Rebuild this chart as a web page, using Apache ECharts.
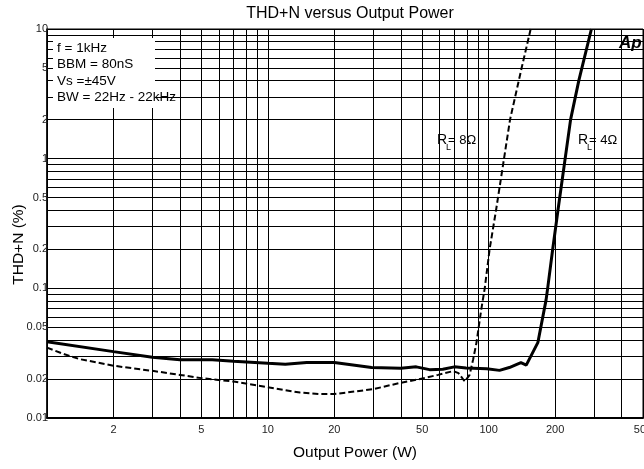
<!DOCTYPE html>
<html>
<head>
<meta charset="utf-8">
<script src="https://cdn.jsdelivr.net/npm/echarts@6/dist/echarts.min.js"></script>
<style>
html,body{margin:0;padding:0;background:#fff;}
#chart{width:644px;height:469px;}
</style>
</head>
<body>
<div id="chart"></div>
<script>
// ---- data ----
const power8 = [1, 1.2, 1.4, 2, 3, 4, 5, 7, 10, 14, 17, 20, 30, 40, 47, 59, 69, 73, 78, 82, 85, 88, 92.5, 96, 101, 108, 125, 141, 155];
const thd8   = [0.0349, 0.031, 0.0285, 0.0253, 0.0231, 0.0215, 0.0203, 0.0191, 0.0173, 0.0157, 0.0153, 0.0153, 0.0167, 0.0187, 0.0197, 0.0215, 0.023, 0.0222, 0.0191, 0.0215, 0.0281, 0.0378, 0.068, 0.1, 0.2, 0.4, 2, 5, 10];
const power4 = [1, 2, 3, 4, 5.6, 7, 10, 12, 15, 20, 29.5, 40, 47, 54, 62, 70, 79, 98, 112, 124, 140, 148, 167, 182, 185, 195, 206, 235, 256, 292];
const thd4   = [0.0388, 0.0325, 0.0294, 0.0281, 0.0281, 0.0274, 0.0264, 0.026, 0.0268, 0.0268, 0.0245, 0.0242, 0.0248, 0.0236, 0.0238, 0.0248, 0.0243, 0.024, 0.0233, 0.0245, 0.0267, 0.0256, 0.0381, 0.0815, 0.1, 0.2, 0.4, 2, 4, 10];

const xGridValues  = [1,2,3,4,5,6,7,8,9,10,20,30,40,50,60,70,80,90,100,200,300,400,500];
const xLabelValues = [2,5,10,20,50,100,200,500];
const yGridValues  = [0.01,0.02,0.03,0.04,0.05,0.06,0.07,0.08,0.09,0.1,0.2,0.3,0.4,0.5,0.6,0.7,0.8,0.9,1,2,3,4,5,6,7,8,9,10];
const yLabelValues = [0.01,0.02,0.05,0.1,0.2,0.5,1,2,5,10];

const titleText = 'THD+N versus Output Power';
const xName = 'Output Power (W)';
const yName = 'THD+N (%)';
const noteLines = ['f = 1kHz', 'BBM = 80nS', 'Vs =\u00b145V', 'BW = 22Hz - 22kHz'];

const FONT = 'Liberation Sans, Arial, sans-serif';
const chart = echarts.init(document.getElementById('chart'), null, {renderer: 'canvas'});

const noteY = [48, 64, 81, 97];
const graphics = [
  {type: 'rect', shape: {x: 53, y: 38, width: 102, height: 70}, style: {fill: '#fff'}, z: 50},
];
noteLines.forEach((t, i) => graphics.push({
  type: 'text', x: 57, y: noteY[i], z: 51,
  style: {text: t, font: '13.5px ' + FONT, fill: '#000', textVerticalAlign: 'middle'}
}));
graphics.push(
  {type: 'text', x: 619, y: 43, z: 51, style: {text: 'Ap', font: 'italic bold 17px ' + FONT, fill: '#000', textVerticalAlign: 'middle'}},
  {type: 'text', x: 437, y: 140, z: 51, style: {text: 'R', font: '14px ' + FONT, fill: '#000', textVerticalAlign: 'middle'}},
  {type: 'text', x: 446, y: 148, z: 51, style: {text: 'L', font: '9px ' + FONT, fill: '#000', textVerticalAlign: 'middle'}},
  {type: 'text', x: 448, y: 140, z: 51, style: {text: '= 8\u03a9', font: '13px ' + FONT, fill: '#000', textVerticalAlign: 'middle'}},
  {type: 'text', x: 578, y: 140, z: 51, style: {text: 'R', font: '14px ' + FONT, fill: '#000', textVerticalAlign: 'middle'}},
  {type: 'text', x: 587, y: 148, z: 51, style: {text: 'L', font: '9px ' + FONT, fill: '#000', textVerticalAlign: 'middle'}},
  {type: 'text', x: 589, y: 140, z: 51, style: {text: '= 4\u03a9', font: '13px ' + FONT, fill: '#000', textVerticalAlign: 'middle'}}
);

const fmt = v => String(+v.toPrecision(3));

chart.setOption({
  animation: false,
  backgroundColor: '#fff',
  title: {
    text: titleText, left: 345, top: 1, textAlign: 'center',
    textStyle: {fontFamily: FONT, fontSize: 16, fontWeight: 'normal', color: '#000'}
  },
  grid: {left: 47, right: 1, top: 29, bottom: 51, show: true, borderColor: '#000', borderWidth: 1,
         containLabel: false, outerBoundsMode: 'none'},
  xAxis: {
    type: 'log', logBase: 10, min: 1, max: 500,
    name: xName, nameLocation: 'middle', nameGap: 27, nameMoveOverlap: false,
    nameTextStyle: {fontFamily: FONT, fontSize: 15.5, color: '#000', padding: [0, 0, 0, 20]},
    axisLine: {show: true, lineStyle: {color: '#000', width: 2}},
    axisTick: {show: false, customValues: xGridValues},
    axisLabel: {customValues: xLabelValues, formatter: fmt, margin: 6, fontFamily: FONT, fontSize: 11, color: '#222'},
    splitLine: {show: true, lineStyle: {color: '#000', width: 1}},
    minorSplitLine: {show: false}
  },
  yAxis: {
    type: 'log', logBase: 10, min: 0.01, max: 10,
    name: yName, nameLocation: 'middle', nameGap: 20, nameMoveOverlap: false,
    nameTextStyle: {fontFamily: FONT, fontSize: 15.5, color: '#000', padding: [0, 42, 0, 0]},
    axisLine: {show: true, lineStyle: {color: '#000', width: 1.5}},
    axisTick: {show: false, customValues: yGridValues},
    axisLabel: {customValues: yLabelValues, formatter: fmt, margin: -1, fontFamily: FONT, fontSize: 11, color: '#222'},
    splitLine: {show: true, lineStyle: {color: '#000', width: 1}}
  },
  graphic: graphics,
  series: [
    {
      name: 'RL = 8Ω', type: 'line', data: power8.map((p, i) => [p, thd8[i]]),
      showSymbol: false, symbol: 'none', clip: true, z: 10,
      lineStyle: {color: '#000', width: 2, type: [6, 3]}
    },
    {
      name: 'RL = 4Ω', type: 'line', data: power4.map((p, i) => [p, thd4[i]]),
      showSymbol: false, symbol: 'none', clip: true, z: 11,
      lineStyle: {color: '#000', width: 3}
    }
  ]
});
</script>
</body>
</html>
